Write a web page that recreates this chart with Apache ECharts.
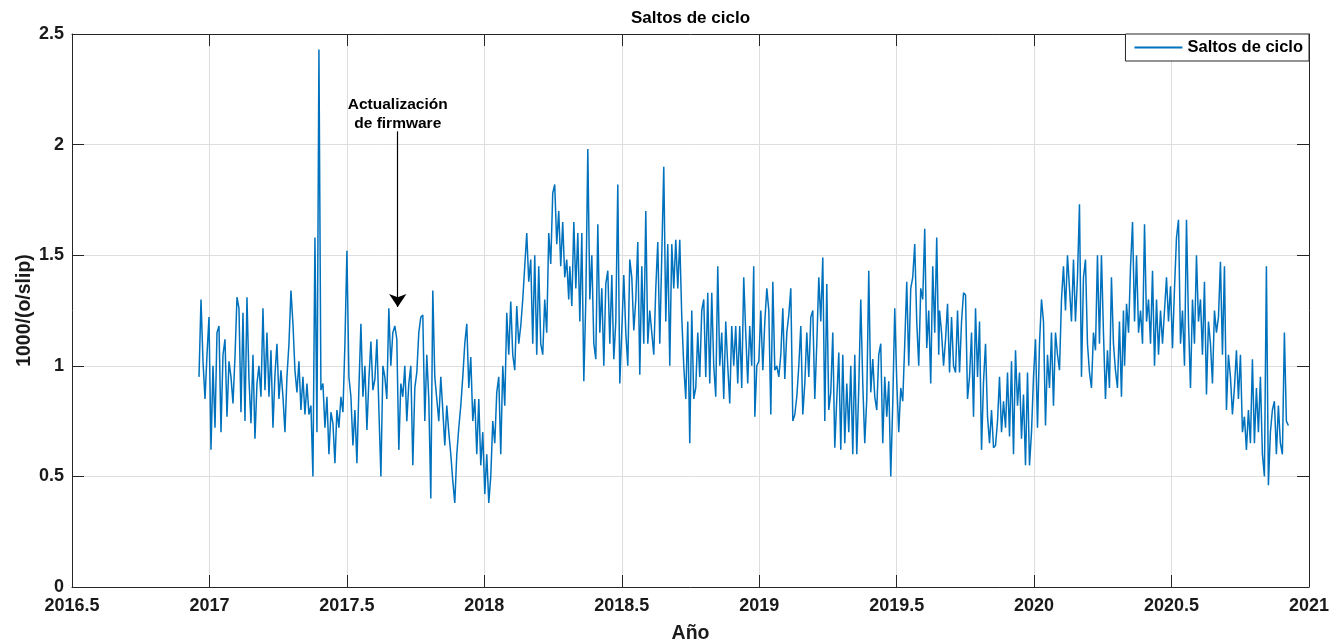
<!DOCTYPE html>
<html><head><meta charset="utf-8">
<script src="https://cdn.jsdelivr.net/npm/echarts@6/dist/echarts.min.js"></script>
<style>html,body{margin:0;padding:0;background:#fff}#c{width:1333px;height:643px}</style>
</head><body><div id="c"></div>
<script>
const chartTitle = 'Saltos de ciclo';
const seriesName = 'Saltos de ciclo';
const xAxisName = 'Año';
const yAxisName = '1000/(o/slip)';
const xMin = 2016.5, xMax = 2021, xInterval = 0.5;
const yMin = 0, yMax = 2.5, yInterval = 0.5;

// Annotation (arrow marking the firmware update)
const annotationText = 'Actualización\nde firmware';
const annotationYear = 2017.685;
const annotationFrom = 2.06;
const annotationTo = 1.266;

// Each block of readings spans these years (evenly spaced readings inside a block)
const segStartYears = [2016.962, 2017.638, 2018.311, 2018.984, 2019.656, 2020.329];
const segEndYears   = [2017.631, 2018.307, 2018.980, 2019.653, 2020.325, 2020.925];

const seg1 = [0.95,1.30,1.02,0.85,1.05,1.22,0.62,1.00,0.72,1.15,1.18,0.70,1.05,1.12,0.77,1.02,0.95,0.83,1.04,1.31,
1.26,0.79,1.24,0.75,1.31,0.94,0.74,1.05,0.67,0.92,1.00,0.86,1.26,0.89,1.15,0.86,1.07,0.72,0.96,1.10,
0.85,0.98,0.86,0.70,0.95,1.10,1.34,1.19,0.98,0.88,1.02,0.80,0.95,0.78,0.92,0.78,0.82,0.50,1.58,0.70,
2.43,0.89,0.92,0.72,0.86,0.60,0.79,0.74,0.56,0.80,0.72,0.86,0.79,1.10,1.52,0.95,0.86,0.64,0.80,0.56,
0.90,1.19,0.86,1.00,0.71,0.94,1.11,0.89,0.94,1.12,0.80,0.50,1.00];
const seg2 = [0.95,0.85,1.26,1.00,1.15,1.18,1.12,0.62,0.92,0.86,1.00,0.75,0.92,1.00,0.55,0.90,0.97,1.15,1.22,1.23,
0.75,1.05,0.85,0.40,1.34,0.95,0.85,0.75,0.95,0.80,0.64,0.82,0.70,0.60,0.48,0.38,0.60,0.72,0.82,0.95,
1.10,1.19,0.90,1.04,0.75,0.85,0.60,0.85,0.55,0.70,0.42,0.60,0.38,0.50,0.75,0.65,0.88,0.95,0.60,1.00,
0.82,1.24,1.05,1.29,1.05,0.98,1.27,1.10,1.18,1.30,1.45,1.60,1.38,1.48,1.10,1.50,1.05,1.45,1.10,1.05,
1.30,1.15,1.60,1.46,1.78,1.82,1.55,1.70,1.45,1.65,1.40,1.48,1.30];
const seg3 = [1.45,1.27,1.65,1.35,1.60,1.20,1.60,0.93,1.30,1.98,1.30,1.50,1.10,1.03,1.64,1.15,1.35,1.00,1.37,1.43,
1.10,1.41,1.03,1.20,1.82,0.92,1.16,1.41,1.15,1.00,1.48,1.40,1.16,1.30,1.56,0.96,1.45,1.10,1.70,1.10,
1.25,1.15,1.05,1.35,1.56,1.10,1.50,1.90,1.20,1.55,1.00,1.55,1.35,1.57,1.35,1.57,1.22,1.00,0.85,1.20,
0.65,1.25,0.85,0.90,1.15,0.95,1.25,1.30,0.95,1.33,0.92,1.33,1.00,0.86,1.45,1.00,1.15,0.85,1.20,1.00,
0.83,1.18,1.00,1.18,0.92,1.18,0.90,1.40,1.15,0.92,1.18,1.00,1.45];
const seg4 = [0.77,1.00,1.02,1.25,0.98,1.20,1.35,1.25,0.78,1.38,0.98,1.00,0.95,1.05,1.26,0.94,1.15,1.23,1.35,0.75,
0.78,0.86,1.00,1.18,0.78,0.92,1.15,0.95,1.22,1.25,0.85,1.10,1.40,1.20,1.49,0.75,1.37,0.80,0.88,1.15,
0.63,0.85,1.06,0.62,1.05,0.65,0.92,0.70,1.00,0.60,1.05,0.60,0.90,1.30,0.92,0.65,0.85,1.43,0.88,1.03,
0.86,0.80,1.05,1.10,0.65,0.95,0.77,0.93,0.50,0.83,1.26,0.93,0.70,0.90,0.84,1.10,1.38,1.00,1.35,1.40,
1.55,1.20,1.00,1.35,1.30,1.62,1.08,1.25,0.92,1.45,1.15,1.58,1.05];
const seg5 = [1.25,1.15,1.00,1.12,1.28,0.97,1.22,1.00,0.97,1.25,0.97,1.20,1.33,1.32,0.85,0.95,1.15,0.77,1.26,0.95,
1.20,0.62,0.93,1.10,0.77,0.65,0.80,0.63,0.64,0.75,0.95,0.70,0.84,0.72,0.97,0.68,1.02,0.60,1.07,0.82,
0.97,0.67,0.87,0.55,0.97,0.55,0.70,0.95,1.12,0.72,1.10,1.30,1.20,0.73,1.05,0.90,1.15,0.82,1.15,1.05,
0.98,1.30,1.45,1.25,1.50,1.35,1.20,1.48,1.20,1.40,1.73,0.95,1.40,1.48,1.10,0.97,0.90,1.15,1.07,1.50,
1.10,1.50,1.15,0.85,1.07,0.90,1.40,1.10,0.98,0.90,1.20,0.86,1.25];
const seg6 = [1.00,1.28,1.15,1.45,1.65,1.20,1.50,1.15,1.25,1.10,1.64,1.20,1.30,1.10,1.43,1.00,1.30,1.05,1.25,1.10,
1.25,1.40,1.20,1.36,1.08,1.35,1.58,1.66,1.10,1.25,1.00,1.66,1.20,0.90,1.30,1.10,1.50,1.20,1.30,1.05,
1.38,0.87,1.20,1.10,0.92,1.25,1.15,1.22,1.47,1.05,1.45,0.80,1.05,0.95,0.78,0.90,1.07,0.85,1.05,0.70,
0.77,0.62,0.80,0.65,1.03,0.65,0.90,0.70,0.95,0.60,0.50,1.45,0.46,0.70,0.80,0.84,0.60,0.82,0.65,0.60,
1.15,0.75,0.73];

const segments = [seg1, seg2, seg3, seg4, seg5, seg6];
const seriesData = [];
segments.forEach((vals, s) => {
  const a = segStartYears[s], b = segEndYears[s], n = vals.length;
  vals.forEach((v, i) => seriesData.push([a + (b - a) * i / (n - 1), v]));
});

const FONT = '"Liberation Sans", Arial, Helvetica, sans-serif';
const AX = '#262626';
const TXT = '#1a1a1a';
const plainNum = v => String(Math.round(v * 1000) / 1000);

const chart = echarts.init(document.getElementById('c'), null, {renderer: 'canvas'});
const axisCommon = {
  axisLine: {show: true, onZero: false, lineStyle: {color: AX, width: 1}},
  axisTick: {show: true, inside: true, length: 12, lineStyle: {color: AX, width: 1}},
};
chart.setOption({
  animation: false,
  textStyle: {fontFamily: FONT},
  title: {
    text: chartTitle, left: 631, top: 10, padding: 0,
    textStyle: {fontSize: 17, fontWeight: 'bold', color: '#000', fontFamily: FONT}
  },
  legend: {
    data: [{name: seriesName, icon: 'rect'}],
    right: 24, top: 34, itemWidth: 48, itemHeight: 2, itemGap: 0,
    padding: [5, 6, 5, 9], borderColor: AX, borderWidth: 1, borderRadius: 0,
    backgroundColor: '#fff', selectedMode: false,
    textStyle: {fontSize: 16.5, fontWeight: 'bold', color: '#000', fontFamily: FONT}
  },
  grid: {left: 72, right: 24, top: 34, bottom: 56, containLabel: false, outerBoundsMode: 'none'},
  xAxis: [
    Object.assign({
      type: 'value', min: xMin, max: xMax, interval: xInterval, position: 'bottom',
      name: xAxisName, nameLocation: 'middle', nameGap: 37, nameMoveOverlap: false,
      nameTextStyle: {fontSize: 19.5, fontWeight: 'bold', color: TXT, fontFamily: FONT},
      axisLabel: {fontSize: 18, fontWeight: 'bold', color: TXT, margin: 10, fontFamily: FONT, formatter: plainNum},
      splitLine: {show: true, lineStyle: {color: '#dedede', width: 1}}
    }, axisCommon),
    Object.assign({
      type: 'value', min: xMin, max: xMax, interval: xInterval, position: 'top',
      axisLabel: {show: false}, splitLine: {show: false}
    }, axisCommon)
  ],
  yAxis: [
    Object.assign({
      type: 'value', min: yMin, max: yMax, interval: yInterval, position: 'left',
      name: yAxisName, nameLocation: 'middle', nameGap: 37, nameRotate: 90, nameMoveOverlap: false,
      nameTextStyle: {fontSize: 19.5, fontWeight: 'bold', color: TXT, fontFamily: FONT},
      axisLabel: {fontSize: 18, fontWeight: 'bold', color: TXT, margin: 8, fontFamily: FONT, formatter: plainNum},
      splitLine: {show: true, lineStyle: {color: '#dedede', width: 1}}
    }, axisCommon),
    Object.assign({
      type: 'value', min: yMin, max: yMax, interval: yInterval, position: 'right',
      axisLabel: {show: false}, splitLine: {show: false}
    }, axisCommon)
  ],
  series: [{
    type: 'line', name: seriesName, data: seriesData,
    xAxisIndex: 0, yAxisIndex: 0,
    showSymbol: false, symbol: 'none', sampling: null,
    lineStyle: {color: '#0072BD', width: 1.5},
    itemStyle: {color: '#0072BD'},
    emphasis: {disabled: true},
    markLine: {
      silent: true, animation: false,
      symbol: ['none', 'arrow'], symbolSize: 13,
      lineStyle: {color: '#000', width: 1.2, type: 'solid'},
      label: {show: true, position: 'start', formatter: annotationText, fontSize: 15.5,
              fontWeight: 'bold', color: '#000', lineHeight: 19, distance: -2, fontFamily: FONT},
      emphasis: {disabled: true},
      data: [[{coord: [annotationYear, annotationFrom]}, {coord: [annotationYear, annotationTo]}]]
    }
  }]
});
</script>
</body></html>
